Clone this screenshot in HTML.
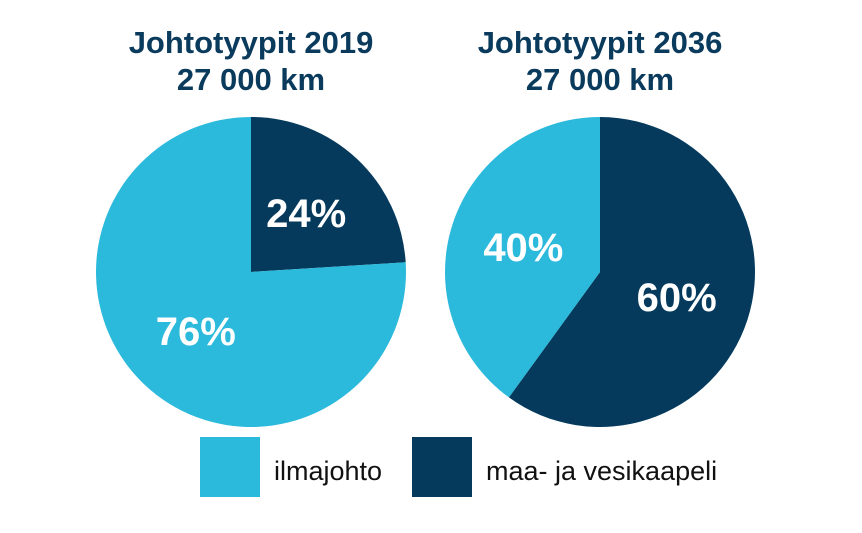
<!DOCTYPE html>
<html><head><meta charset="utf-8"><style>
body{margin:0;background:#fff;width:862px;height:528px;overflow:hidden}
svg text{font-family:"Liberation Sans Narrow","Liberation Sans",sans-serif;font-weight:bold}
</style></head><body>
<svg id="c" width="862" height="528">
<text x="251" y="53" text-anchor="middle" font-size="31" fill="#0a3a5c">Johtotyypit 2019</text>
<text x="251" y="90" text-anchor="middle" font-size="31" fill="#0a3a5c">27 000 km</text>
<text x="600" y="53" text-anchor="middle" font-size="31" fill="#0a3a5c">Johtotyypit 2036</text>
<text x="600" y="90" text-anchor="middle" font-size="31" fill="#0a3a5c">27 000 km</text>
<rect x="200" y="437" width="60" height="60" fill="#2bb9dc"/>
<text x="274" y="480" font-size="27" font-weight="normal" style="font-weight:normal" fill="#111">ilmajohto</text>
<rect x="412" y="437" width="60" height="60" fill="#053a5c"/>
<text x="486" y="480" font-size="27" style="font-weight:normal" fill="#111">maa- ja vesikaapeli</text>
</svg>
<script>
const years = ["2019","2036"];
const darkShare = [24, 60];
const lightShare = [76, 40];
const centersX = [251, 600];
const cy = 272, r = 155;
const svg = document.getElementById('c');
const NS = 'http://www.w3.org/2000/svg';
function pt(cx, frac, rr){const a = frac*2*Math.PI - Math.PI/2;return [cx+rr*Math.cos(a), cy+rr*Math.sin(a)];}
function slice(cx, f0, f1, color){
  const p = document.createElementNS(NS,'path');
  const [x0,y0]=pt(cx,f0,r),[x1,y1]=pt(cx,f1,r);
  const large = (f1-f0)>0.5?1:0;
  p.setAttribute('d',`M${cx},${cy}L${x0},${y0}A${r},${r} 0 ${large} 1 ${x1},${y1}Z`);
  p.setAttribute('fill',color);
  svg.appendChild(p);
  return p;
}
function label(cx, fmid, rr, txt){
  const [x,y]=pt(cx,fmid,rr);
  const t=document.createElementNS(NS,'text');
  t.setAttribute('x',x);t.setAttribute('y',y+14);
  t.setAttribute('text-anchor','middle');t.setAttribute('font-size','40');t.setAttribute('fill','#fff');
  t.textContent=txt+'%';
  svg.appendChild(t);
  return t;
}
years.forEach((y,i)=>{
  const cx=centersX[i], d=darkShare[i]/100, l=lightShare[i]/100;
  const ds=slice(cx,0,d,'#053a5c');
  
  
  const ls=slice(cx,d,d+l,'#2bb9dc');
  
  
  const dl=label(cx,d/2,r*0.52,darkShare[i]);
  
  
  const ll=label(cx,d+l/2,r*0.52,lightShare[i]);
  
  
});
</script>
</body></html>
